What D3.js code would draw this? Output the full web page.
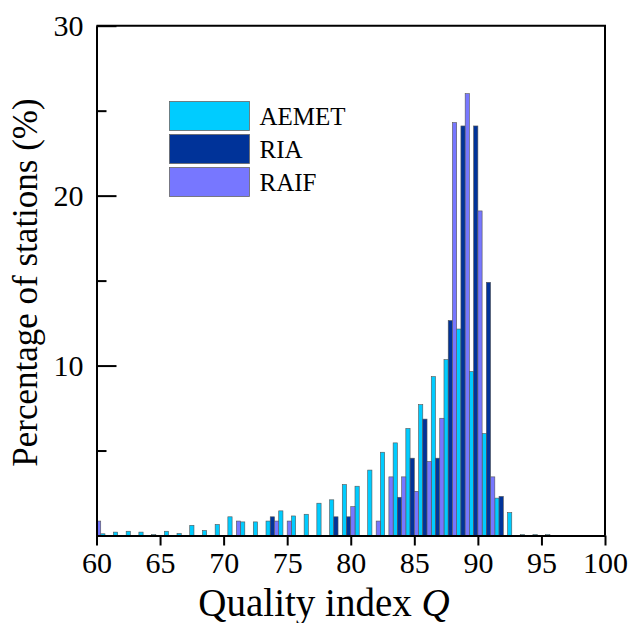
<!DOCTYPE html>
<html>
<head>
<meta charset="utf-8">
<script src="https://cdn.jsdelivr.net/npm/d3@7"></script>
<style>
  html, body { margin: 0; padding: 0; background: #fff; }
  svg { display: block; font-family: "Liberation Serif", "Times New Roman", serif; }
  .axis path, .axis line { stroke: #000; stroke-width: 2; }
  .axis text { font-size: 30px; fill: #000; font-family: "Liberation Serif", "Times New Roman", serif; }
</style>
</head>
<body>
<svg id="chart" width="633" height="623"></svg>
<script>
// ── Data (percentage of stations per quality-index bin) ─────────────────────
const qBins = [60, 61, 62, 63, 64, 65, 66, 67, 68, 69, 70, 71, 72, 73, 74, 75, 76, 77, 78,
               79, 80, 81, 82, 83, 84, 85, 86, 87, 88, 89, 90, 91, 92, 93, 94, 95, 96];
const aemet = [0, 0.1, 0.2, 0.25, 0.2, 0.05, 0.25, 0.12, 0.6, 0.3, 0.65, 1.1, 0.8, 0.8, 0.85, 1.45, 1.15, 1.25, 1.9,
               2.1, 3.0, 2.9, 3.85, 4.9, 5.45, 6.3, 7.7, 9.35, 10.35, 12.15, 9.65, 6.0, 2.2, 1.35, 0.05, 0.05, 0.05];
const ria   = [0, 0, 0, 0, 0, 0, 0, 0, 0, 0, 0, 0, 0, 0, 1.1, 0, 0, 0, 0,
               1.1, 1.1, 0, 0, 0, 2.25, 4.55, 6.85, 4.55, 12.65, 24.1, 24.1, 14.9, 2.3, 0, 0, 0, 0];
const raif  = [0.85, 0, 0, 0, 0, 0, 0, 0, 0, 0, 0, 0.85, 0, 0, 0.85, 0.85, 0, 0, 0,
               0, 1.7, 0, 0.85, 3.45, 3.45, 2.6, 4.35, 6.9, 24.3, 26.0, 19.1, 3.45, 0, 0, 0, 0, 0];

const series = [
    { name: "AEMET", values: aemet, color: "#00ccff", offset: -2 / 3 },
    { name: "RIA",   values: ria,   color: "#003399", offset: -1 / 3 },
    { name: "RAIF",  values: raif,  color: "#7777ff", offset: 0 },
];
const xTicks = [60, 65, 70, 75, 80, 85, 90, 95, 100];
const yMajor = [10, 20, 30];
const yMinor = [5, 15, 25];

// ── Layout ──────────────────────────────────────────────────────────────────
const svg = d3.select("#chart");
const L = 96.5, R = 605, T = 25.7, B = 535.5;

const x = d3.scaleLinear().domain([60, 100]).range([L, R]);
const y = d3.scaleLinear().domain([0, 30]).range([B, T]);
const barW = x(61) - x(60.6667);

svg.append("defs").append("clipPath").attr("id", "plot-clip")
    .append("rect").attr("x", L).attr("y", T).attr("width", R - L).attr("height", B - T);

// ── Bars ────────────────────────────────────────────────────────────────────
const barG = svg.append("g").attr("clip-path", "url(#plot-clip)");
series.forEach(s => {
    const rows = qBins.map((q, i) => ({ q, v: s.values[i] })).filter(d => d.v > 0);
    barG.selectAll(null).data(rows).join("rect")
        .attr("x", d => x(d.q + s.offset))
        .attr("y", d => y(d.v))
        .attr("width", barW)
        .attr("height", d => y(0) - y(d.v))
        .attr("fill", s.color)
        .attr("stroke", "#555")
        .attr("stroke-width", 0.6);
});

// ── Axes ────────────────────────────────────────────────────────────────────
svg.append("g").attr("class", "axis")
    .attr("transform", `translate(0,${B})`)
    .call(d3.axisBottom(x).tickValues(xTicks).tickSize(10).tickSizeOuter(0).tickPadding(6));

svg.append("g").attr("class", "axis")
    .attr("transform", `translate(${L},0)`)
    .call(d3.axisLeft(y).tickValues(yMajor).tickSizeInner(-20).tickSizeOuter(0).tickPadding(13));

svg.append("g").attr("class", "axis")
    .attr("transform", `translate(${L},0)`)
    .call(d3.axisLeft(y).tickValues(yMinor).tickSizeInner(-10).tickSizeOuter(0).tickFormat(""))
    .call(g => g.select(".domain").remove());

// frame (top and right)
svg.append("path")
    .attr("d", `M${x(60)},${y(30)}H${x(100)}V${y(0)}`)
    .attr("fill", "none").attr("stroke", "#000").attr("stroke-width", 2);

// ── Titles ──────────────────────────────────────────────────────────────────
svg.append("text")
    .attr("x", 324).attr("y", 616)
    .attr("text-anchor", "middle")
    .style("font-size", "39px")
    .html('Quality index <tspan font-style="italic">Q</tspan>');

svg.append("text")
    .attr("transform", `translate(37,${(100 + 465) / 2}) rotate(-90)`)
    .attr("text-anchor", "middle")
    .style("font-size", "35px")
    .text("Percentage of stations (%)");

// ── Legend ──────────────────────────────────────────────────────────────────
const leg = svg.append("g").attr("transform", "translate(169.5,101.5)");
series.forEach((s, i) => {
    const row = leg.append("g").attr("transform", `translate(0,${i * 33})`);
    row.append("rect").attr("width", 80).attr("height", 29)
        .attr("fill", s.color).attr("stroke", "#666").attr("stroke-width", 0.8);
    row.append("text").attr("x", 90).attr("y", 23)
        .style("font-size", "25px").text(s.name);
});
</script>
</body>
</html>
